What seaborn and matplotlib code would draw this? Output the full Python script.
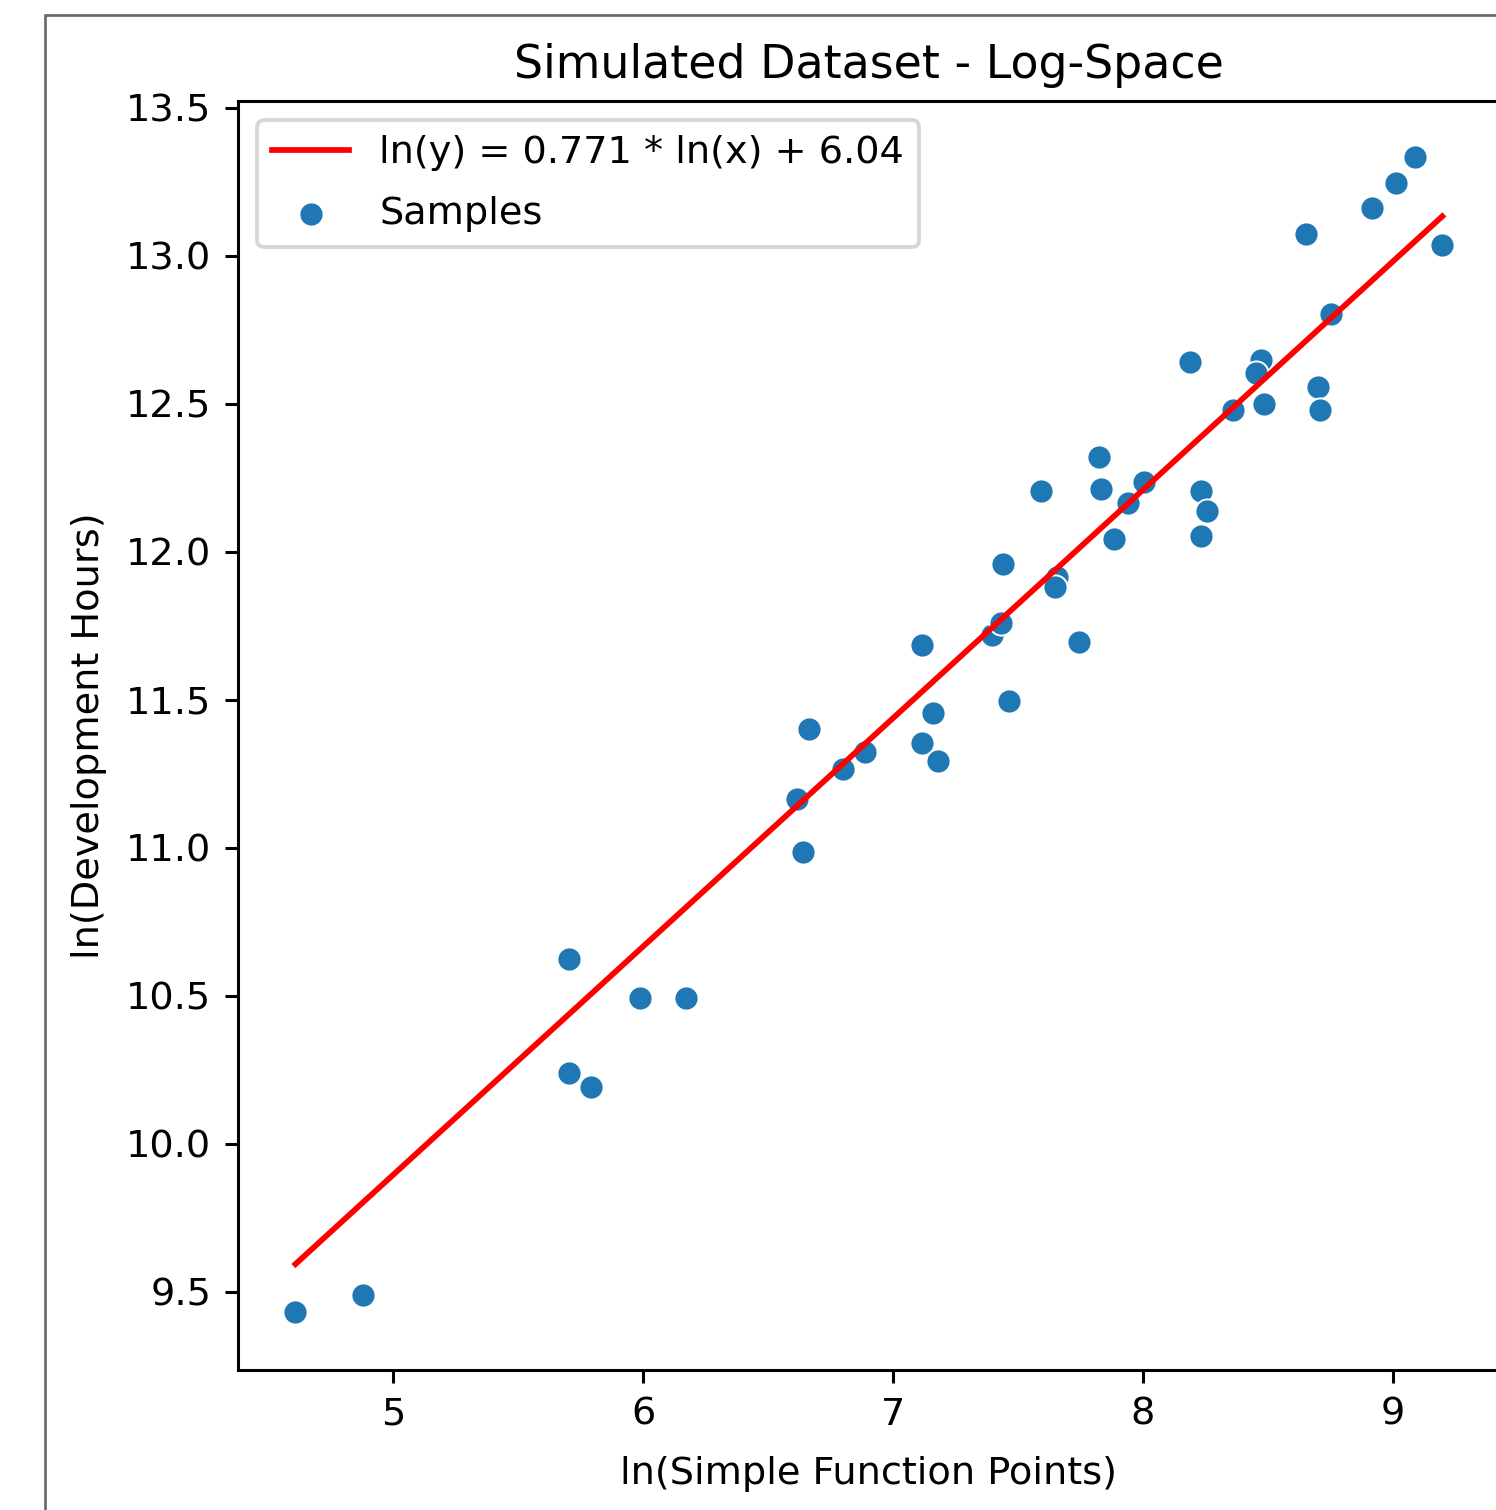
#!/usr/bin/env python3
"""Simulated dataset in log-space: scatter of samples with fitted line."""

import numpy as np
import pandas as pd
import matplotlib
matplotlib.use('Agg')
import matplotlib.pyplot as plt
from matplotlib.patches import Rectangle
import seaborn as sns

# Data (log-space)
ln_fp = [4.608, 4.880, 5.704, 5.704, 5.792, 5.988, 6.172,
         6.663, 6.888, 6.801, 6.615, 6.639, 7.116, 7.159, 7.116, 7.181,
         7.397, 7.431, 7.463, 7.745,
         7.441, 7.655, 7.648, 7.592, 7.823, 7.832, 7.941, 8.005, 7.885,
         8.235, 8.257, 8.235,
         8.191, 8.475, 8.452, 8.361, 8.484, 8.701, 8.711, 8.755, 8.655,
         8.919, 9.015, 9.091, 9.199]
ln_hours = [9.432, 9.489, 10.624, 10.239, 10.192, 10.492, 10.492,
            11.400, 11.323, 11.265, 11.163, 10.984, 11.684, 11.455, 11.352, 11.293,
            11.717, 11.757, 11.495, 11.693,
            11.959, 11.914, 11.880, 12.203, 12.319, 12.212, 12.165, 12.235, 12.044,
            12.204, 12.137, 12.051,
            12.640, 12.646, 12.603, 12.477, 12.497, 12.556, 12.479, 12.801, 13.073,
            13.161, 13.245, 13.332, 13.037]

SLOPE = 0.771
INTERCEPT = 6.04
FIT_LABEL = 'ln(y) = 0.771 * ln(x) + 6.04'

DPI = 275
W, H = 1496, 1510


def main():
    df = pd.DataFrame({'ln_fp': ln_fp, 'ln_hours': ln_hours})

    fig = plt.figure(figsize=(W / DPI, H / DPI), dpi=DPI)
    ax = fig.add_axes([238 / W, 140 / H, (1500 - 238) / W, (1370 - 101) / H])

    # Fitted line over the data range
    xs = np.linspace(df['ln_fp'].min(), df['ln_fp'].max(), 100)
    ax.plot(xs, SLOPE * xs + INTERCEPT, color='red', label=FIT_LABEL)

    sns.scatterplot(data=df, x='ln_fp', y='ln_hours', ax=ax, label='Samples', s=40)

    ax.set_xlim(4.378, 9.43)
    ax.set_ylim(9.235, 13.522)
    ax.set_title('Simulated Dataset - Log-Space')
    ax.set_xlabel('ln(Simple Function Points)', labelpad=6)
    ax.set_ylabel('ln(Development Hours)', labelpad=5)
    ax.legend(loc='upper left', labelspacing=0.65)

    # Frame around the figure (only top/left edges visible in the crop)
    fig.patches.append(Rectangle((45 / W, -0.2), 2.0, 1 - 15 / H + 0.2,
                                 transform=fig.transFigure, fill=False,
                                 edgecolor='#666666', linewidth=0.7))

    fig.savefig('out.png', dpi=DPI)
    plt.close(fig)


if __name__ == '__main__':
    main()
